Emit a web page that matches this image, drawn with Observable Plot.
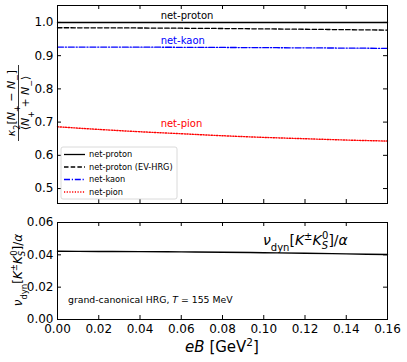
<!DOCTYPE html>
<html>
<head>
<meta charset="utf-8">
<script src="https://cdn.jsdelivr.net/npm/d3@7"></script>
<script src="https://cdn.jsdelivr.net/npm/@observablehq/plot@0.6"></script>
<style>
  html, body { margin: 0; padding: 0; background: #fff; }
  #wrap { position: relative; width: 407px; height: 362px; overflow: hidden; font-family: "DejaVu Sans", sans-serif; }
  #wrap > svg, #wrap > div { position: absolute; left: 0; }
</style>
</head>
<body>
<div id="wrap"></div>
<script>
// ---- data ----
const eB = [0, 0.02, 0.04, 0.06, 0.08, 0.10, 0.12, 0.14, 0.16];
const netProton = [1.0, 1.0, 1.0, 1.0, 1.0, 1.0, 1.0, 1.0, 1.0];
const netProtonEV = [0.984, 0.9838, 0.9833, 0.9826, 0.9817, 0.9806, 0.9795, 0.9782, 0.977];
const netKaon = [0.926, 0.9259, 0.9256, 0.9252, 0.9247, 0.9241, 0.9235, 0.9228, 0.922];
const netPion = [0.686, 0.678, 0.671, 0.665, 0.659, 0.654, 0.650, 0.646, 0.643];
const nuDyn = [0.0422, 0.0421, 0.0420, 0.0418, 0.0416, 0.0413, 0.0410, 0.0406, 0.0402];
const xTicks = [0, 0.02, 0.04, 0.06, 0.08, 0.10, 0.12, 0.14, 0.16];
const yTicksTop = [0.5, 0.6, 0.7, 0.8, 0.9, 1.0];
const yTicksBottom = [0, 0.02, 0.04, 0.06];
const seriesNames = ["net-proton", "net-proton (EV-HRG)", "net-kaon", "net-pion"];

(function () {
const rows = (ys, name) => eB.map((x, i) => ({x, y: ys[i], name}));

const W = 407;
const wrap = document.getElementById("wrap");
const font = "DejaVu Sans, sans-serif";
const tickLen = 4;

// ---- top panel ----
const topH = 205, topMT = 5, topMB = 2, ML = 57, MR = 20;
const topInnerH = topH - topMT - topMB;
const innerW = W - ML - MR;
const topPlot = Plot.plot({
  width: W, height: topH,
  marginLeft: ML, marginRight: MR, marginTop: topMT, marginBottom: topMB,
  style: {fontFamily: font, fontSize: "12px", background: "transparent", color: "#000", overflow: "visible"},
  x: {domain: [0, 0.16], axis: null},
  y: {domain: [0.455, 1.051]},
  marks: [
    Plot.axisY(yTicksTop, {tickSize: 0, tickPadding: 4, tickFormat: d3.format(".1f"), fontSize: 12, label: null}),
    Plot.tickX(xTicks, {x: d => d, insetTop: topInnerH - tickLen, stroke: "#000"}),
    Plot.tickX(xTicks, {x: d => d, insetBottom: topInnerH - tickLen, stroke: "#000"}),
    Plot.tickY(yTicksTop, {y: d => d, insetRight: innerW - tickLen, stroke: "#000"}),
    Plot.tickY(yTicksTop, {y: d => d, insetLeft: innerW - tickLen, stroke: "#000"}),
    Plot.line(rows(netProton, seriesNames[0]), {x: "x", y: "y", stroke: "#000", strokeWidth: 1.4}),
    Plot.line(rows(netProtonEV, seriesNames[1]), {x: "x", y: "y", stroke: "#000", strokeWidth: 1.3, strokeDasharray: "4.5,2.2", curve: "monotone-x"}),
    Plot.line(rows(netKaon, seriesNames[2]), {x: "x", y: "y", stroke: "#0000ff", strokeWidth: 1.3, strokeDasharray: "6,1.8,1.2,1.8", curve: "monotone-x"}),
    Plot.line(rows(netPion, seriesNames[3]), {x: "x", y: "y", stroke: "#ff0000", strokeWidth: 1.4, strokeDasharray: "1.2,1.5", curve: "monotone-x"}),
    Plot.text(["net-proton"], {x: 0.05, y: 1.02, text: d => d, textAnchor: "start", fill: "#000", fontSize: 10}),
    Plot.text(["net-kaon"], {x: 0.05, y: 0.945, text: d => d, textAnchor: "start", fill: "#0000ff", fontSize: 10}),
    Plot.text(["net-pion"], {x: 0.05, y: 0.694, text: d => d, textAnchor: "start", fill: "#ff0000", fontSize: 10}),
    Plot.frame({stroke: "#000", strokeWidth: 1})
  ]
});
topPlot.style.top = "0px";
wrap.appendChild(topPlot);

// ---- bottom panel ----
const botTop = 205, botH = 157, botMT = 17, botMB = 43;
const botInnerH = botH - botMT - botMB;
const bottomPlot = Plot.plot({
  width: W, height: botH,
  marginLeft: ML, marginRight: MR, marginTop: botMT, marginBottom: botMB,
  style: {fontFamily: font, fontSize: "12px", background: "transparent", color: "#000", overflow: "visible"},
  x: {domain: [0, 0.16]},
  y: {domain: [0, 0.06]},
  marks: [
    Plot.axisY(yTicksBottom, {tickSize: 0, tickPadding: 4, tickFormat: d3.format(".2f"), fontSize: 12, label: null}),
    Plot.axisX(xTicks, {tickSize: 0, tickPadding: 5, tickFormat: d3.format(".2f"), fontSize: 12, label: null}),
    Plot.tickX(xTicks, {x: d => d, insetTop: botInnerH - tickLen, stroke: "#000"}),
    Plot.tickX(xTicks, {x: d => d, insetBottom: botInnerH - tickLen, stroke: "#000"}),
    Plot.tickY(yTicksBottom, {y: d => d, insetRight: innerW - tickLen, stroke: "#000"}),
    Plot.tickY(yTicksBottom, {y: d => d, insetLeft: innerW - tickLen, stroke: "#000"}),
    Plot.line(rows(nuDyn, "nu"), {x: "x", y: "y", stroke: "#000", strokeWidth: 1.4, curve: "monotone-x"}),
    Plot.frame({stroke: "#000", strokeWidth: 1})
  ]
});
bottomPlot.style.top = botTop + "px";
wrap.appendChild(bottomPlot);

// ---- overlay: labels, legend, annotations ----
const ov = d3.create("svg").attr("width", W).attr("height", 362)
  .attr("font-family", font).style("top", "0px").style("pointer-events", "none");

const sub = (t, fs) => `<tspan baseline-shift="sub" font-size="${fs}">${t}</tspan>`;
const sup = (t, fs) => `<tspan baseline-shift="super" font-size="${fs}">${t}</tspan>`;
const it = t => `<tspan font-style="italic">${t}</tspan>`;

// top y label (fraction)
ov.append("g").attr("transform", "translate(18.5,103) rotate(-90)").html(
  `<text x="0" y="-3.5" text-anchor="middle" font-size="11">${it("κ")}${sub("2", 8)}[${it("N")}${sub("+", 8)} − ${it("N")}${sub("−", 8)}]</text>` +
  `<line x1="-38" x2="38" y1="0" y2="0" stroke="#000" stroke-width="0.8"/>` +
  `<text x="0" y="10.5" text-anchor="middle" font-size="11">⟨${it("N")}${sub("+", 8)} + ${it("N")}${sub("−", 8)}⟩</text>`
);

// bottom y label
ov.append("g").attr("transform", "translate(22,270) rotate(-90)").html(
  `<text x="0" y="0" text-anchor="middle" font-size="12">${it("ν")}${sub("dyn", 8.5)}[${it("K")}${sup("±", 8.5)}${it("K")}<tspan font-size="8.5" dy="3" font-style="italic">S</tspan><tspan font-size="8.5" dx="-5" dy="-8">0</tspan><tspan dy="5">]/</tspan>${it("α")}</text>`
);

// x label
ov.append("text").attr("x", 222).attr("y", 352).attr("text-anchor", "middle").attr("font-size", 15)
  .html(`${it("eB")} [GeV${sup("2", 10.5)}]`);

// bottom annotation
ov.append("text").attr("x", 263).attr("y", 245).attr("font-size", 14)
  .html(`${it("ν")}${sub("dyn", 10)}[${it("K")}${sup("±", 10)}${it("K")}<tspan font-size="10" dy="3.5" font-style="italic">S</tspan><tspan font-size="10" dx="-6" dy="-10">0</tspan><tspan dy="6.5">]/</tspan>${it("α")}`);

ov.append("text").attr("x", 68).attr("y", 303).attr("font-size", 9.3)
  .html(`grand-canonical HRG, ${it("T")} = 155 MeV`);

// legend
const lg = ov.append("g");
lg.append("rect").attr("x", 61).attr("y", 147).attr("width", 116).attr("height", 52).attr("rx", 2)
  .attr("fill", "#fff").attr("fill-opacity", 0.8).attr("stroke", "#d0d0d0").attr("stroke-width", 0.8);
const legendStyles = [
  {stroke: "#000", dash: null},
  {stroke: "#000", dash: "4.5,2.2"},
  {stroke: "#0000ff", dash: "6,1.8,1.2,1.8"},
  {stroke: "#ff0000", dash: "1.2,1.5"}
];
seriesNames.forEach((name, i) => {
  const y = 154.5 + i * 12.5;
  const s = legendStyles[i];
  const ln = lg.append("line").attr("x1", 64).attr("x2", 85).attr("y1", y).attr("y2", y)
    .attr("stroke", s.stroke).attr("stroke-width", 1.3);
  if (s.dash) ln.attr("stroke-dasharray", s.dash);
  lg.append("text").attr("x", 89).attr("y", y).attr("dy", "0.35em").attr("font-size", 8.2).text(name);
});

wrap.appendChild(ov.node());
})();
</script>
</body>
</html>
